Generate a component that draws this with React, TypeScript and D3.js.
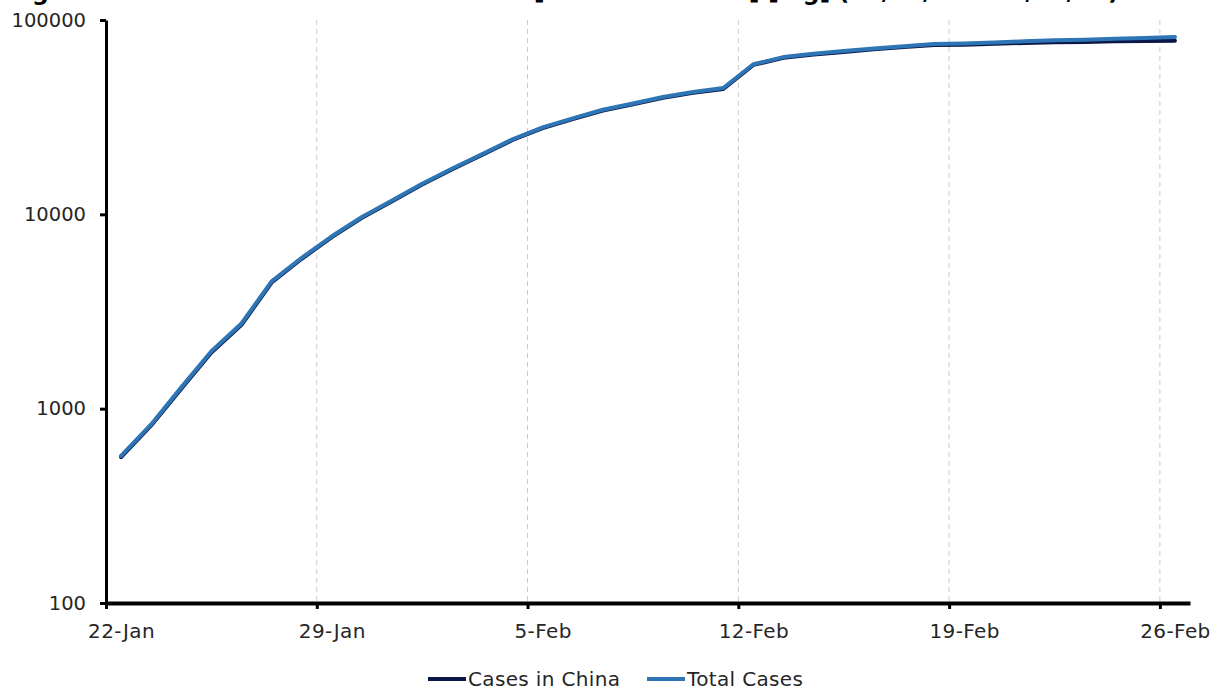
import React, { useRef, useEffect } from 'react';
import * as d3 from 'd3';

// Daily cumulative confirmed cases, 22-Jan to 26-Feb 2020
const startDate = '2020-01-22';
const totalCases = [
  571, 830, 1287, 1975, 2744, 4515, 5974, 7711, 9692, 11791,
  14380, 17205, 20440, 24324, 28018, 31161, 34546, 37198, 40171, 42638,
  44653, 59210, 64433, 67100, 69197, 71329, 73332, 75184, 75700, 76677,
  77673, 78651, 79205, 80087, 80828, 81820,
];
const chinaCases = [
  564, 820, 1268, 1945, 2700, 4458, 5907, 7633, 9596, 11673,
  14246, 17054, 20281, 24133, 27802, 30888, 34239, 36876, 39821, 42236,
  44195, 58728, 63895, 66515, 68526, 70625, 72528, 74304, 74629, 75473,
  76231, 76852, 77136, 77628, 77922, 78156,
];
const xTickLabels = ['22-Jan', '29-Jan', '5-Feb', '12-Feb', '19-Feb', '26-Feb'];
const yTickValues = [100, 1000, 10000, 100000];
const seriesNames = ['Cases in China', 'Total Cases'];
const title = 'Figure 1: Confirmed Cases of COVID-19 [China vs Global] [log] (22/01/20 \u2013 26/02/20)';

const App = () => {
  const ref = useRef<SVGSVGElement>(null);

  useEffect(() => {
    const svg = d3.select(ref.current);
    svg.selectAll('*').remove();

    const font = '"DejaVu Sans", Verdana, sans-serif';
    const textColor = '#262626';
    const chinaColor = '#0b1746';
    const totalColor = '#2e75b6';

    const parse = d3.timeParse('%Y-%m-%d');
    const start = parse(startDate) as Date;
    const dates = totalCases.map((_, i) => d3.timeDay.offset(start, i));
    const end = d3.timeDay.offset(start, 36);

    const x = d3.scaleTime().domain([start, end]).range([106, 1190]);
    const y = d3.scaleLog().domain([100, 100000]).range([603, 20]);

    // points (and labels) sit in the middle of each day slot
    const mid = (d: Date) => x(d3.timeHour.offset(d, 12));
    const half = mid(start) - x(start);

    // Title (cut off at the top, as in the source image)
    svg.append('text')
      .attr('x', 8)
      .attr('y', 0)
      .attr('fill', '#000')
      .style('font-family', font)
      .style('font-weight', 'bold')
      .style('font-size', '23.5px')
      .text(title);

    // Gridlines
    const tickDates = xTickLabels.map((_, i) => d3.timeDay.offset(start, i * 7));
    svg.append('g')
      .selectAll('line')
      .data(tickDates.slice(1))
      .join('line')
      .attr('x1', d => x(d))
      .attr('x2', d => x(d))
      .attr('y1', y(100000))
      .attr('y2', y(100))
      .attr('stroke', '#c9c9c9')
      .attr('stroke-width', 1)
      .attr('stroke-dasharray', '5,4');

    // Axes
    const xAxis = svg.append('g')
      .attr('transform', `translate(0,${y(100)})`)
      .call(d3.axisBottom(x).tickValues(tickDates).tickFormat((_, i) => xTickLabels[i]).tickSize(6).tickSizeOuter(0));
    xAxis.select('.domain').attr('stroke', '#000').attr('stroke-width', 4);
    xAxis.selectAll('.tick line').attr('stroke', '#000').attr('stroke-width', 3);
    xAxis.selectAll('.tick text')
      .attr('dy', 0)
      .attr('y', 35)
      .attr('x', half)
      .attr('fill', textColor)
      .style('font-family', font)
      .style('font-size', '20px')
      .style('letter-spacing', '0.4px');

    const yAxis = svg.append('g')
      .attr('transform', `translate(${x(start)},0)`)
      .call(d3.axisLeft(y).tickValues(yTickValues).tickFormat(d3.format('d')).tickSize(6).tickSizeOuter(0));
    yAxis.select('.domain').attr('stroke', '#000').attr('stroke-width', 3);
    yAxis.selectAll('.tick line').attr('stroke', '#000').attr('stroke-width', 3);
    yAxis.selectAll('.tick text')
      .attr('x', -20)
      .attr('fill', textColor)
      .style('font-family', font)
      .style('font-size', '19.5px');

    // Lines
    const line = d3.line<number>()
      .x((_, i) => mid(dates[i]))
      .y(d => y(d));

    svg.append('path')
      .datum(chinaCases)
      .attr('fill', 'none')
      .attr('stroke', chinaColor)
      .attr('stroke-width', 4)
      .attr('stroke-linejoin', 'round')
      .attr('stroke-linecap', 'round')
      .attr('d', line);

    svg.append('path')
      .datum(totalCases)
      .attr('fill', 'none')
      .attr('stroke', totalColor)
      .attr('stroke-width', 4)
      .attr('stroke-linejoin', 'round')
      .attr('stroke-linecap', 'round')
      .attr('d', line);

    // Legend
    const legend = svg.append('g').attr('transform', 'translate(0,679)');
    const legendX = [428, 647];
    const colors = [chinaColor, totalColor];
    seriesNames.forEach((name, i) => {
      legend.append('line')
        .attr('x1', legendX[i])
        .attr('x2', legendX[i] + 38)
        .attr('y1', 0)
        .attr('y2', 0)
        .attr('stroke', colors[i])
        .attr('stroke-width', 4);
      legend.append('text')
        .attr('x', legendX[i] + 40)
        .attr('y', 7)
        .attr('fill', textColor)
        .style('font-family', font)
        .style('font-size', '20px')
        .style('letter-spacing', '0.35px')
        .text(name);
    });
  }, []);

  return (
    <svg
      ref={ref}
      width={1220}
      height={691}
      style={{ position: 'absolute', left: 0, top: 0, background: '#fff' }}
    />
  );
};

export default App;
